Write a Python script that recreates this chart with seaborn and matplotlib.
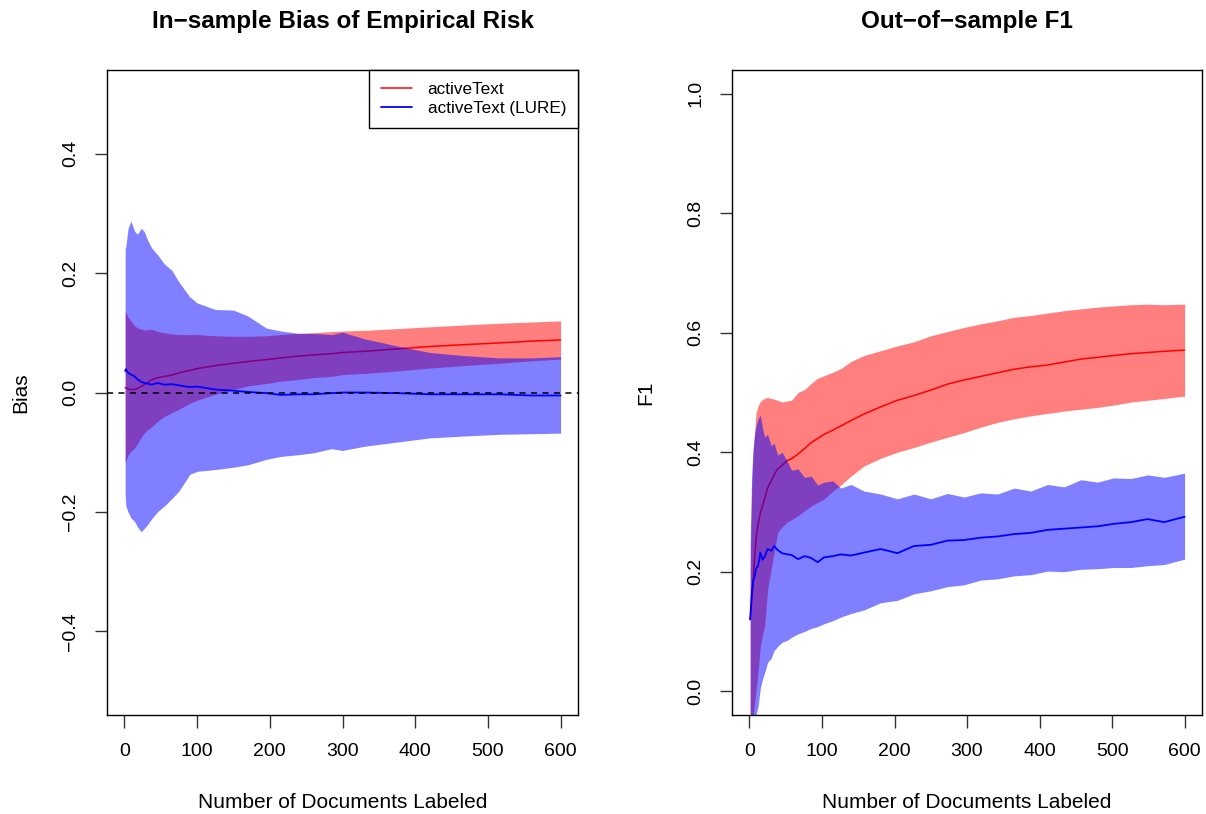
import numpy as np
import matplotlib
matplotlib.use("Agg")
import matplotlib.pyplot as plt
import seaborn as sns

# --- left panel: in-sample bias of empirical risk ---
x_left = [1, 2, 5, 9, 14, 18, 23, 27, 32, 37, 46, 55, 65, 75, 90, 100, 125, 150,
          170, 195, 215, 240, 260, 285, 300, 330, 375, 420, 465, 515, 560, 600]

bias_red_mean = [0.008, 0.008, 0.006, 0.005, 0.005, 0.007, 0.010, 0.013, 0.017, 0.021,
                 0.025, 0.027, 0.029, 0.033, 0.037, 0.040, 0.045, 0.049, 0.052, 0.055,
                 0.058, 0.061, 0.063, 0.065, 0.067, 0.069, 0.073, 0.077, 0.080, 0.083,
                 0.086, 0.088]
bias_red_hi = [0.138, 0.134, 0.126, 0.120, 0.112, 0.108, 0.106, 0.105, 0.105, 0.106,
               0.102, 0.100, 0.098, 0.097, 0.097, 0.097, 0.095, 0.094, 0.094, 0.095,
               0.097, 0.099, 0.100, 0.102, 0.103, 0.104, 0.107, 0.110, 0.113, 0.116,
               0.118, 0.120]
bias_red_lo = [-0.118, -0.115, -0.105, -0.098, -0.093, -0.085, -0.075, -0.068, -0.062,
               -0.058, -0.048, -0.040, -0.034, -0.028, -0.018, -0.013, -0.003, 0.005,
               0.011, 0.015, 0.019, 0.022, 0.025, 0.027, 0.030, 0.032, 0.036, 0.041,
               0.045, 0.049, 0.053, 0.056]

bias_blue_mean = [0.036, 0.039, 0.033, 0.030, 0.027, 0.022, 0.018, 0.016, 0.015, 0.013,
                  0.016, 0.013, 0.014, 0.012, 0.009, 0.010, 0.005, 0.003, 0.001, -0.001,
                  -0.004, -0.003, -0.003, -0.001, 0.000, 0.000, -0.001, -0.003, -0.003,
                  -0.003, -0.005, -0.005]
bias_blue_hi = [0.240, 0.245, 0.275, 0.287, 0.270, 0.265, 0.275, 0.270, 0.255, 0.243,
                0.230, 0.215, 0.205, 0.185, 0.160, 0.150, 0.139, 0.138, 0.128, 0.108,
                0.103, 0.099, 0.099, 0.097, 0.101, 0.090, 0.078, 0.067, 0.062, 0.058,
                0.058, 0.060]
bias_blue_lo = [-0.170, -0.190, -0.200, -0.210, -0.216, -0.225, -0.233, -0.228, -0.221,
                -0.212, -0.199, -0.190, -0.178, -0.165, -0.137, -0.132, -0.129, -0.125,
                -0.121, -0.112, -0.107, -0.104, -0.101, -0.094, -0.097, -0.090, -0.083,
                -0.076, -0.073, -0.070, -0.069, -0.068]

# --- right panel: out-of-sample F1 ---
x_right = [1, 3, 5, 7, 9, 12, 15, 18, 21, 25, 30, 34, 39, 45, 52, 58, 67, 76, 85, 94,
           103, 115, 126, 140, 158, 181, 204, 227, 250, 273, 296, 319, 342, 365, 388,
           411, 434, 457, 480, 502, 526, 549, 572, 600]

f1_red_mean = [0.120, 0.150, 0.180, 0.220, 0.255, 0.280, 0.298, 0.310, 0.322, 0.340,
               0.352, 0.362, 0.372, 0.378, 0.386, 0.389, 0.397, 0.406, 0.416, 0.423,
               0.430, 0.437, 0.444, 0.453, 0.464, 0.476, 0.487, 0.495, 0.504, 0.514,
               0.521, 0.527, 0.533, 0.539, 0.543, 0.546, 0.551, 0.556, 0.559, 0.562,
               0.565, 0.567, 0.569, 0.571]
f1_red_hi = [0.200, 0.330, 0.400, 0.430, 0.465, 0.478, 0.485, 0.488, 0.490, 0.492,
             0.490, 0.489, 0.487, 0.484, 0.486, 0.487, 0.500, 0.505, 0.515, 0.524,
             0.528, 0.534, 0.540, 0.552, 0.562, 0.570, 0.578, 0.585, 0.595, 0.602,
             0.609, 0.615, 0.620, 0.626, 0.629, 0.633, 0.637, 0.640, 0.643, 0.645,
             0.647, 0.648, 0.647, 0.648]
f1_red_lo = [-0.045, -0.045, -0.045, -0.020, 0.000, 0.035, 0.075, 0.095, 0.109, 0.170,
             0.205, 0.232, 0.266, 0.275, 0.283, 0.287, 0.294, 0.302, 0.310, 0.316,
             0.322, 0.335, 0.345, 0.360, 0.377, 0.390, 0.400, 0.408, 0.417, 0.425,
             0.433, 0.442, 0.450, 0.456, 0.461, 0.465, 0.469, 0.472, 0.475, 0.479,
             0.484, 0.487, 0.490, 0.494]

f1_blue_mean = [0.120, 0.160, 0.185, 0.190, 0.205, 0.210, 0.232, 0.220, 0.225, 0.238,
                0.235, 0.243, 0.236, 0.231, 0.229, 0.228, 0.221, 0.226, 0.223, 0.216,
                0.224, 0.226, 0.229, 0.227, 0.232, 0.238, 0.231, 0.243, 0.245, 0.252,
                0.253, 0.257, 0.259, 0.263, 0.265, 0.270, 0.272, 0.274, 0.276, 0.280,
                0.283, 0.288, 0.283, 0.292]
f1_blue_hi = [0.250, 0.360, 0.405, 0.430, 0.444, 0.456, 0.462, 0.440, 0.425, 0.430,
              0.411, 0.415, 0.395, 0.400, 0.385, 0.370, 0.372, 0.358, 0.360, 0.345,
              0.350, 0.352, 0.340, 0.346, 0.335, 0.330, 0.322, 0.330, 0.322, 0.331,
              0.325, 0.332, 0.330, 0.340, 0.335, 0.346, 0.342, 0.354, 0.350, 0.357,
              0.356, 0.362, 0.358, 0.365]
f1_blue_lo = [-0.050, -0.050, -0.050, -0.045, -0.040, -0.025, 0.005, 0.020, 0.031, 0.048,
              0.055, 0.068, 0.075, 0.082, 0.085, 0.090, 0.096, 0.100, 0.105, 0.108,
              0.113, 0.118, 0.124, 0.130, 0.136, 0.148, 0.152, 0.163, 0.168, 0.175,
              0.178, 0.186, 0.188, 0.193, 0.195, 0.201, 0.200, 0.204, 0.205, 0.207,
              0.207, 0.210, 0.212, 0.221]

labels = ["activeText", "activeText (LURE)"]

sns.set_theme(style="white")
plt.rcParams['font.family'] = ['Liberation Sans', 'DejaVu Sans']
plt.rcParams['axes.unicode_minus'] = True
for k in ['text.color', 'axes.labelcolor', 'xtick.color', 'ytick.color']:
    plt.rcParams[k] = 'black'

fig = plt.figure(figsize=(12.06, 8.14), dpi=100)
ax1 = fig.add_axes([0.0887, 0.1216, 0.3906, 0.7924])
ax2 = fig.add_axes([0.607, 0.1216, 0.3897, 0.7924])

red_band = (1, 0, 0, 0.5)
blue_band = (0, 0, 1, 0.5)


def draw_panel(ax, x, r_mean, r_lo, r_hi, b_mean, b_lo, b_hi):
    ax.fill_between(x, r_lo, r_hi, color=red_band, linewidth=0, zorder=1)
    sns.lineplot(x=x, y=r_mean, ax=ax, color='red', linewidth=1.1,
                 estimator=None, label=labels[0], zorder=2)
    ax.fill_between(x, b_lo, b_hi, color=blue_band, linewidth=0, zorder=3)
    sns.lineplot(x=x, y=b_mean, ax=ax, color='blue', linewidth=1.3,
                 estimator=None, label=labels[1], zorder=4)
    ax.set_xlim(-24, 624)
    ax.set_xticks([0, 100, 200, 300, 400, 500, 600])
    ax.set_xlabel('Number of Documents Labeled', fontsize=15, labelpad=24)
    for s in ax.spines.values():
        s.set_color('black')
        s.set_linewidth(1.0)
        s.set_zorder(6)
    ax.tick_params(axis='both', direction='out', length=9, width=1.0,
                   color='#333333', labelsize=14, bottom=True, left=True)
    ax.tick_params(axis='x', pad=11)
    ax.tick_params(axis='y', pad=11)


# left panel
draw_panel(ax1, x_left, bias_red_mean, bias_red_lo, bias_red_hi,
           bias_blue_mean, bias_blue_lo, bias_blue_hi)
ax1.axhline(0, color='black', linestyle=(0, (4, 3.5)), linewidth=1.1, zorder=5)
ax1.set_ylim(-0.54, 0.54)
ax1.set_yticks([-0.4, -0.2, 0.0, 0.2, 0.4])
ax1.set_yticklabels(['\u22120.4', '\u22120.2', '0.0', '0.2', '0.4'],
                    rotation=90, va='center')
ax1.set_ylabel('Bias', fontsize=15, labelpad=23)
ax1.set_title('In\u2212sample Bias of Empirical Risk', fontsize=17.5,
              fontweight='bold', pad=30)
leg = ax1.legend(loc='upper right', borderaxespad=0, fancybox=False,
                 edgecolor='black', framealpha=1, fontsize=12.3,
                 handlelength=1.8, handletextpad=0.9, borderpad=0.7,
                 labelspacing=0.25)
leg.get_frame().set_linewidth(1.0)
leg.set_zorder(7)

# right panel
draw_panel(ax2, x_right, f1_red_mean, f1_red_lo, f1_red_hi,
           f1_blue_mean, f1_blue_lo, f1_blue_hi)
ax2.set_ylim(-0.04, 1.04)
ax2.set_yticks([0.0, 0.2, 0.4, 0.6, 0.8, 1.0])
ax2.set_yticklabels(['0.0', '0.2', '0.4', '0.6', '0.8', '1.0'],
                    rotation=90, va='center')
ax2.set_ylabel('F1', fontsize=15, labelpad=23)
ax2.set_title('Out\u2212of\u2212sample F1', fontsize=17.5, fontweight='bold', pad=30)
ax2.get_legend().remove()

fig.savefig('out.png', dpi=100, facecolor='white')
